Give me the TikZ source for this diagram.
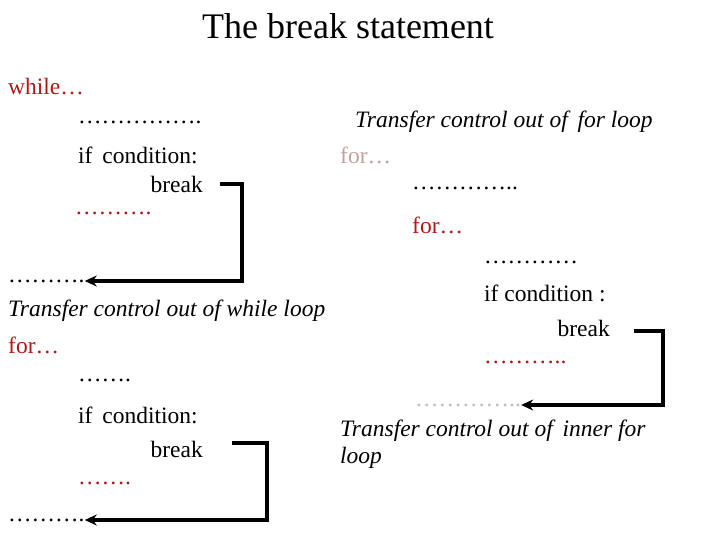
\documentclass[tikz,border=0pt]{standalone}
\usepackage{fontspec}
\setmainfont{Liberation Serif}
\usetikzlibrary{arrows.meta}
\definecolor{kwred}{RGB}{178,24,24}
\definecolor{kwpale}{RGB}{196,160,160}
\definecolor{dotgray}{RGB}{190,190,190}
\begin{document}
\begin{tikzpicture}[x=1pt,y=-1pt,
    txt/.style={anchor=west, inner sep=0pt, font=\fontsize{23.5}{27}\selectfont},
    note/.style={txt, font=\fontsize{23.5}{27}\selectfont\itshape},
    jump/.style={line width=3.6pt, -{Stealth[length=12pt,width=11pt]}}]
	\useasboundingbox (0,0) rectangle (720,540);
	\node[inner sep=0pt, font=\fontsize{36}{42}\selectfont] (title) at (348,26) {The break statement};
	
	% while loop
	\node[txt, text=kwred] (while) at (8,87) {while\dots};
	\node[txt] (wd1) at (78,122) {\dots\dots\dots\dots\dots.};
	\node[txt] (wif) at (78,155) {if\, condition:};
	\node[txt, anchor=east] (wbrk) at (203,184) {break};
	\node[txt, text=kwred] (wd2) at (75,213) {\dots\dots\dots.};
	\node[txt] (wout) at (8,281) {\dots\dots\dots.};
	\node[note] (wnote) at (8,311) {Transfer control out of while loop};
	
	% for loop
	\node[txt, text=kwred] (for) at (8,345) {for\dots};
	\node[txt] (fd1) at (78,380) {\dots\dots.};
	\node[txt] (fif) at (78,415) {if\, condition:};
	\node[txt, anchor=east] (fbrk) at (203,449) {break};
	\node[txt, text=kwred] (fd2) at (78,483) {\dots\dots.};
	\node[txt] (fout) at (8,520) {\dots\dots\dots.};
	
	% nested for loops
	\node[note] (nnote) at (355,122) {Transfer control out of\, for loop};
	\node[txt, text=kwpale] (outer) at (340,155) {for\dots};
	\node[txt] (nd1) at (412,188) {\dots\dots\dots\dots..};
	\node[txt, text=kwred] (inner) at (412,225) {for\dots};
	\node[txt] (nd2) at (484,262) {\dots\dots\dots\dots};
	\node[txt] (nif) at (484,293) {if condition :};
	\node[txt, anchor=east] (nbrk) at (610,328) {break};
	\node[txt, text=kwred] (nd3) at (484,362) {\dots\dots\dots..};
	\node[txt, text=dotgray] (nout) at (415,405) {\dots\dots\dots\dots..};
	\node[note, align=left, anchor=north west] (inote) at (340,420) {Transfer control out of\, inner for\\loop};
	
	\draw[jump] (wbrk.east) ++(17,0) -| (242,281) -- (wout.east);
	\draw[jump] (fbrk.east) ++(29,-6) -| (267,520) -- (fout.east);
	\draw[jump] (nbrk.east) ++(24,3) -| (663,405) -- (nout.east);
\end{tikzpicture}
\end{document}
